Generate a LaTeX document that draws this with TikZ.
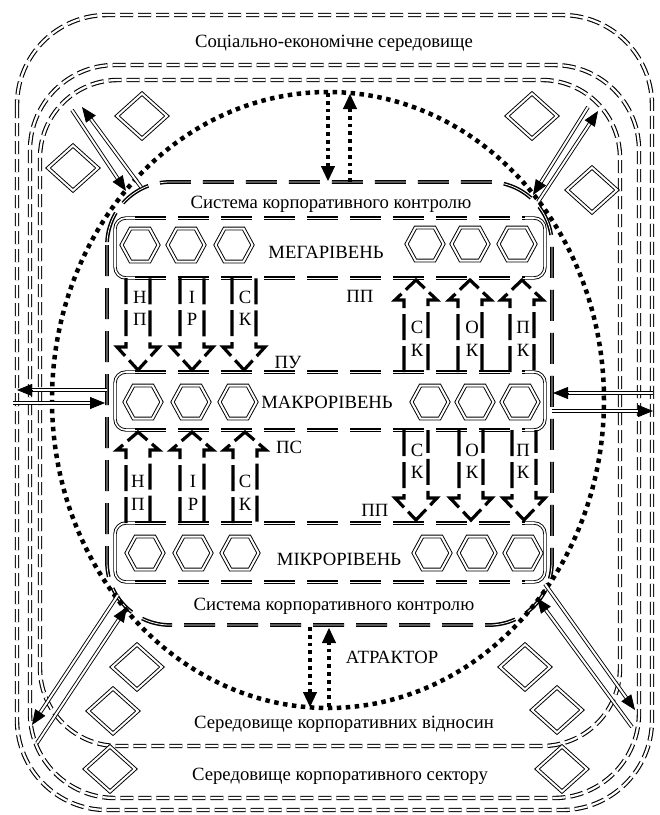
\documentclass[tikz,border=0pt]{standalone}
\usepackage{fontspec}
\setmainfont{Liberation Serif}
\usetikzlibrary{arrows.meta,calc}
\newcommand{\blockarr}[4]{%
  \draw[blkarrow] (#1-12,#2) -- (#1-12,#3) -- (#1-21,#3) -- (#1,#4) -- (#1+21,#3) -- (#1+12,#3) -- (#1+12,#2);}
\newcommand{\lvlbox}[2]{%
  \draw[lvlsolid, rounded corners=11pt] (135,#1) -- (115,#1) -- (115,#2) -- (135,#2);
  \draw[lvlsolid, rounded corners=11pt] (525,#1) -- (545,#1) -- (545,#2) -- (525,#2);
  \draw[lvldash] (135,#1) -- (525,#1);
  \draw[lvldash] (135,#2) -- (525,#2);}
\newcommand{\dmd}[2]{\draw[dblthin] (#1-25,#2) -- (#1,#2-22.5) -- (#1+25,#2) -- (#1,#2+22.5) -- cycle;}
\newcommand{\hexa}[2]{\draw[dblthin] (#1-18.5,#2) -- (#1-9.5,#2-16.5) -- (#1+9.5,#2-16.5) -- (#1+18.5,#2) -- (#1+9.5,#2+16.5) -- (#1-9.5,#2+16.5) -- cycle;}
\newcommand{\dblarr}[2]{%
  \draw[dblline, shorten >=11pt] (#1) -- (#2);
  \draw[tipline] ($(#2)!15pt!(#1)$) -- (#2);}
\newcommand{\dotarr}[2]{%
  \draw[dotarrow, shorten >=12pt] (#1) -- (#2);
  \draw[dottip] ($(#2)!14pt!(#1)$) -- (#2);}
\begin{document}
\begin{tikzpicture}[x=1pt,y=-1pt,
  envline/.style={draw=black, line width=1.1pt, double=white, double distance=2.2pt, dash pattern=on 13pt off 5pt},
  lvldash/.style={draw=black, line width=1.5pt, double=white, double distance=0.8pt, dash pattern=on 31pt off 12pt},
  lvlsolid/.style={draw=black, line width=0.9pt, double=white, double distance=1.6pt},
  blkarrow/.style={draw=black, line width=3.2pt, dash pattern=on 26pt off 6pt, line join=miter},
  dotring/.style={draw=black, line width=4.5pt, dash pattern=on 4.5pt off 4.5pt},
  dotarrow/.style={draw=black, line width=3.5pt, dash pattern=on 3.8pt off 4pt},
  dottip/.style={draw=black, line width=1pt, solid, -{Triangle[length=15pt,width=14pt]}},
  dblthin/.style={draw=black, line width=0.95pt, double=white, double distance=2pt, line join=miter},
  dblline/.style={draw=black, line width=0.9pt, double=white, double distance=2pt},
  tipline/.style={draw=black, line width=0.8pt, -{Triangle[length=15pt,width=12pt]}},
  lbl/.style={font=\fontsize{18.7}{21}\selectfont, inner sep=0pt, anchor=base},
]
\useasboundingbox (0,0) rectangle (660,815);
\fill[white] (0,0) rectangle (660,815);

% environment frames
\draw[envline, rounded corners=90pt] (17,15) rectangle (652,810);
\draw[envline, rounded corners=85pt] (30,65) rectangle (639,798);
\draw[envline, rounded corners=78pt] (40,80) rectangle (620,746);

% diamonds
\dmd{142}{116} \dmd{73}{168} \dmd{532}{116} \dmd{592}{190}
\dmd{137}{667} \dmd{113}{711} \dmd{110}{769}
\dmd{525}{667} \dmd{557}{710} \dmd{562}{769}

% control system frame
\draw[lvldash, rounded corners=63pt] (107,182) rectangle (552,625);

% level boxes
\lvlbox{218}{278}
\lvlbox{372}{430}
\lvlbox{523}{582}

% hexagons
\hexa{140}{245} \hexa{186}{245} \hexa{234}{245}
\hexa{425}{244} \hexa{470}{244} \hexa{517}{244}
\hexa{143}{402} \hexa{191}{402} \hexa{238}{402}
\hexa{430}{402} \hexa{475}{402} \hexa{520}{402}
\hexa{145}{553} \hexa{193}{553} \hexa{240}{553}
\hexa{432}{553} \hexa{477}{553} \hexa{523}{553}

% block arrows
\blockarr{138}{278}{347}{370}
\blockarr{192}{278}{347}{370}
\blockarr{244}{278}{347}{370}
\blockarr{416}{372}{300}{280}
\blockarr{470}{372}{300}{280}
\blockarr{522}{372}{300}{280}
\blockarr{138}{523}{450}{432}
\blockarr{192}{523}{450}{432}
\blockarr{245}{523}{450}{432}
\blockarr{416}{430}{498}{520}
\blockarr{471}{430}{498}{520}
\blockarr{524}{430}{498}{520}

% attractor ellipse
\draw[dotring] (328,400) ellipse [x radius=276pt, y radius=308pt];

% coordinates
\coordinate (tdA1) at (328,93);  \coordinate (tdA2) at (328,181);
\coordinate (tuA1) at (350,182); \coordinate (tuA2) at (350,94);
\coordinate (bdA1) at (310,627); \coordinate (bdA2) at (310,707);
\coordinate (buA1) at (329,707); \coordinate (buA2) at (329,628);
\coordinate (tlA1) at (72,110);  \coordinate (tlA2) at (126,191);
\coordinate (tlB1) at (141,187); \coordinate (tlB2) at (82,107);
\coordinate (trC1) at (588,107); \coordinate (trC2) at (533,195);
\coordinate (trD1) at (538,202); \coordinate (trD2) at (598,111);
\coordinate (blE1) at (118,595); \coordinate (blE2) at (32,725);
\coordinate (blF1) at (37,743);  \coordinate (blF2) at (127,607);
\coordinate (brG1) at (545,584); \coordinate (brG2) at (635,710);
\coordinate (brH1) at (632,727); \coordinate (brH2) at (537,598);
\coordinate (hlA1) at (107,390); \coordinate (hlA2) at (17,390);
\coordinate (hlB1) at (13,403);  \coordinate (hlB2) at (105,403);
\coordinate (hrA1) at (653,393); \coordinate (hrA2) at (553,393);
\coordinate (hrB1) at (552,411); \coordinate (hrB2) at (653,411);

% dotted arrows
\dotarr{tdA1}{tdA2}
\dotarr{tuA1}{tuA2}
\dotarr{bdA1}{bdA2}
\dotarr{buA1}{buA2}

% double-line arrows
\dblarr{tlA1}{tlA2}
\dblarr{tlB1}{tlB2}
\dblarr{trC1}{trC2}
\dblarr{trD1}{trD2}
\dblarr{blE1}{blE2}
\dblarr{blF1}{blF2}
\dblarr{brG1}{brG2}
\dblarr{brH1}{brH2}
\dblarr{hlA1}{hlA2}
\dblarr{hlB1}{hlB2}
\dblarr{hrA1}{hrA2}
\dblarr{hrB1}{hrB2}

% texts
\node[lbl] (tse) at (334,47) {Соціально-економічне середовище};
\node[lbl] (tsk1) at (331,208) {Система корпоративного контролю};
\node[lbl] (tsk2) at (334,610) {Система корпоративного контролю};
\node[lbl] (tmega) at (326,258) {МЕГАРІВЕНЬ};
\node[lbl] (tmakro) at (327,408) {МАКРОРІВЕНЬ};
\node[lbl] (tmikro) at (339,565) {МІКРОРІВЕНЬ};
\node[lbl] (tpp1) at (360,302) {ПП};
\node[lbl] (tpu) at (288,368) {ПУ};
\node[lbl] (tps) at (289,453) {ПС};
\node[lbl] (tpp2) at (375,516) {ПП};
\node[lbl] (tattr) at (392,663) {АТРАКТОР};
\node[lbl] (tskv) at (344,728) {Середовище корпоративних відносин};
\node[lbl] (tsks) at (340,780) {Середовище корпоративного сектору};

% arrow labels
\node[lbl] (l1a) at (140,303) {Н}; \node[lbl] (l1b) at (140,325) {П};
\node[lbl] (l2a) at (192,303) {І}; \node[lbl] (l2b) at (192,325) {Р};
\node[lbl] (l3a) at (245,303) {С}; \node[lbl] (l3b) at (245,325) {К};
\node[lbl] (l4a) at (417,333) {С}; \node[lbl] (l4b) at (417,356) {К};
\node[lbl] (l5a) at (472,333) {О}; \node[lbl] (l5b) at (472,356) {К};
\node[lbl] (l6a) at (523,333) {П}; \node[lbl] (l6b) at (523,356) {К};
\node[lbl] (l7a) at (138,487) {Н}; \node[lbl] (l7b) at (138,510) {П};
\node[lbl] (l8a) at (193,487) {І}; \node[lbl] (l8b) at (193,510) {Р};
\node[lbl] (l9a) at (245,487) {С}; \node[lbl] (l9b) at (245,510) {К};
\node[lbl] (l10a) at (417,456) {С}; \node[lbl] (l10b) at (417,478) {К};
\node[lbl] (l11a) at (472,456) {О}; \node[lbl] (l11b) at (472,478) {К};
\node[lbl] (l12a) at (523,456) {П}; \node[lbl] (l12b) at (523,478) {К};
\end{tikzpicture}
\end{document}
